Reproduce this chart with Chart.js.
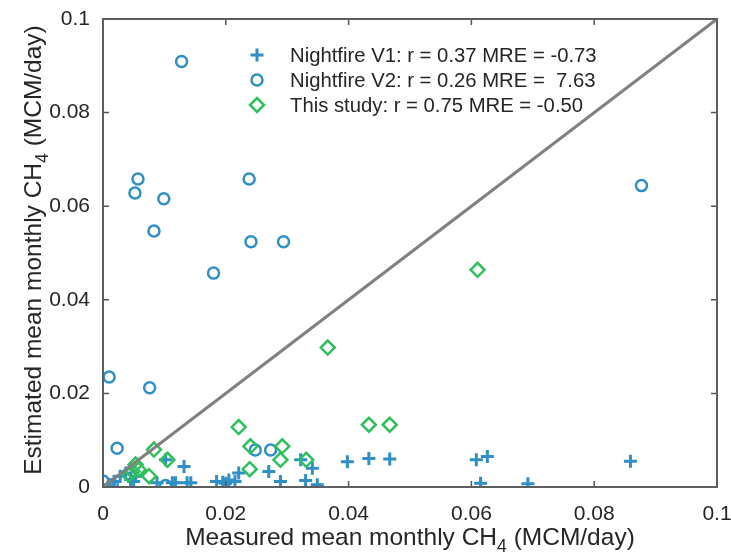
<!DOCTYPE html>
<html>
<head>
<meta charset="utf-8">
<script src="https://cdn.jsdelivr.net/npm/chart.js@4.4.1/dist/chart.umd.min.js"></script>
<style>
  body { margin: 0; background: #ffffff; }
  #box { width: 731px; height: 560px; }
</style>
</head>
<body>
<div id="box"><canvas id="grafico" width="731" height="560"></canvas></div>
<script>
// --- dati (MCM/day) ---
const nightfireV1 = [
    [0.0010, 0.0005], [0.0018, 0.0012], [0.0028, 0.0023], [0.0037, 0.0030], [0.0045, 0.0016],
    [0.0053, 0.0023], [0.0050, 0.0012], [0.0088, 0.0009], [0.0102, 0.0058], [0.0113, 0.0009],
    [0.0118, 0.0009], [0.0132, 0.0044], [0.0137, 0.0009], [0.0143, 0.0009], [0.0185, 0.0012],
    [0.0195, 0.0010], [0.0200, 0.0008], [0.0205, 0.0015], [0.0215, 0.0012], [0.0221, 0.0030],
    [0.0270, 0.0033], [0.0289, 0.0012], [0.0322, 0.0058], [0.0341, 0.0040], [0.0330, 0.0014],
    [0.0349, 0.0005], [0.0398, 0.0054], [0.0433, 0.0061], [0.0467, 0.0060], [0.0608, 0.0058],
    [0.0626, 0.0065], [0.0615, 0.0008], [0.0692, 0.0007], [0.0859, 0.0055]
];
const nightfireV2 = [
    [0.0128, 0.0909], [0.0057, 0.0658], [0.0052, 0.0628], [0.0099, 0.0616], [0.0083, 0.0547],
    [0.0238, 0.0658], [0.0241, 0.0524], [0.0294, 0.0524], [0.0180, 0.0457], [0.0010, 0.0235],
    [0.0076, 0.0212], [0.0877, 0.0644], [0.0023, 0.0083], [0.0000, 0.0013], [0.0015, 0.0005],
    [0.0102, 0.0003], [0.0248, 0.0079], [0.0273, 0.0079]
];
const questoStudio = [
    [0.0042, 0.0026], [0.0048, 0.0033], [0.0053, 0.0048], [0.0058, 0.0037], [0.0075, 0.0023],
    [0.0083, 0.0080], [0.0105, 0.0058], [0.0221, 0.0128], [0.0240, 0.0087], [0.0239, 0.0038],
    [0.0292, 0.0087], [0.0289, 0.0058], [0.0331, 0.0058], [0.0366, 0.0298], [0.0433, 0.0133],
    [0.0467, 0.0133], [0.0610, 0.0464]
];
const lineaUnoAUno = [[0, 0], [0.1, 0.1]];

const etichetteSerie = [
    'Nightfire V1: r = 0.37 MRE = -0.73',
    'Nightfire V2: r = 0.26 MRE =  7.63',
    'This study: r = 0.75 MRE = -0.50'
];
const valoriTick = [0, 0.02, 0.04, 0.06, 0.08, 0.1];
const etichetteTick = ['0', '0.02', '0.04', '0.06', '0.08', '0.1'];
const titoloX = ['Measured mean monthly CH', '4', ' (MCM/day)'];
const titoloY = ['Estimated mean monthly CH', '4', ' (MCM/day)'];

const BLU = '#2f8fc6';
const VERDE = '#2fbf5c';
const GRIGIO = '#808080';
const TESTO = '#262626';
const FONT = '"Liberation Sans", Arial, sans-serif';

function punti(arr) {
    return arr.map(p => ({ x: p[0], y: p[1] }));
}

// Disegna il testo con pedice (CH4)
function testoConPedice(ctx, parti, size) {
    ctx.font = size + 'px ' + FONT;
    const w0 = ctx.measureText(parti[0]).width;
    ctx.font = (size * 0.72) + 'px ' + FONT;
    const w1 = ctx.measureText(parti[1]).width;
    ctx.font = size + 'px ' + FONT;
    const w2 = ctx.measureText(parti[2]).width;
    let x = -(w0 + w1 + w2) / 2;
    ctx.textAlign = 'left';
    ctx.textBaseline = 'middle';
    ctx.fillText(parti[0], x, 0);
    ctx.font = (size * 0.72) + 'px ' + FONT;
    ctx.fillText(parti[1], x + w0, size * 0.38);
    ctx.font = size + 'px ' + FONT;
    ctx.fillText(parti[2], x + w0 + w1, 0);
}

//---[ PLUGIN: cornice, tick interni, titoli, legenda ]---
const pluginCornice = {
    id: 'cornice',
    afterDraw(chart) {
        const ctx = chart.ctx;
        const a = chart.chartArea;
        const sx = chart.scales.x;
        const sy = chart.scales.y;
        ctx.save();

        // tick interni
        ctx.strokeStyle = '#555555';
        ctx.lineWidth = 1.5;
        valoriTick.forEach(v => {
            const px = sx.getPixelForValue(v);
            const py = sy.getPixelForValue(v);
            ctx.beginPath();
            ctx.moveTo(px, a.bottom); ctx.lineTo(px, a.bottom - 6);
            ctx.moveTo(px, a.top); ctx.lineTo(px, a.top + 6);
            ctx.moveTo(a.left, py); ctx.lineTo(a.left + 6, py);
            ctx.moveTo(a.right, py); ctx.lineTo(a.right - 6, py);
            ctx.stroke();
        });

        // cornice
        ctx.strokeStyle = '#5e5e5e';
        ctx.lineWidth = 2;
        ctx.strokeRect(a.left, a.top, a.right - a.left, a.bottom - a.top);

        // titoli assi
        ctx.fillStyle = TESTO;
        ctx.save();
        ctx.translate((a.left + a.right) / 2, 538);
        testoConPedice(ctx, titoloX, 24.5);
        ctx.restore();
        ctx.save();
        ctx.translate(34, 250);
        ctx.rotate(-Math.PI / 2);
        testoConPedice(ctx, titoloY, 24.5);
        ctx.restore();

        // legenda
        const serie = chart.data.datasets.filter(d => d.inLegenda);
        serie.forEach((d, i) => {
            const y = 55 + i * 25;
            ctx.strokeStyle = d.borderColor;
            ctx.fillStyle = 'rgba(0,0,0,0)';
            ctx.lineWidth = d.borderWidth;
            Chart.helpers.drawPoint(ctx, {
                pointStyle: d.pointStyle,
                radius: d.pointRadius,
                borderWidth: d.borderWidth,
                rotation: 0
            }, 257, y);
            ctx.fillStyle = TESTO;
            ctx.font = '20.3px ' + FONT;
            ctx.textAlign = 'left';
            ctx.textBaseline = 'middle';
            ctx.fillText(d.label, 290, y + 1);
        });
        ctx.restore();
    }
};

const opzioniAsse = {
    type: 'linear',
    min: 0,
    max: 0.1,
    grid: { display: false },
    border: { display: false },
    afterBuildTicks: s => { s.ticks = valoriTick.map(v => ({ value: v })); },
    ticks: {
        color: TESTO,
        font: { family: FONT, size: 21 },
        maxRotation: 0,
        callback: (v) => etichetteTick[valoriTick.indexOf(v)]
    }
};

const ctx = document.getElementById('grafico').getContext('2d');
new Chart(ctx, {
    type: 'scatter',
    data: {
        datasets: [
            {
                type: 'line',
                data: punti(lineaUnoAUno),
                borderColor: GRIGIO,
                borderWidth: 3,
                pointRadius: 0,
                fill: false,
                order: 0
            },
            {
                label: etichetteSerie[0],
                inLegenda: true,
                data: punti(nightfireV1),
                pointStyle: 'cross',
                pointRadius: 6.5,
                borderWidth: 3,
                borderColor: BLU,
                backgroundColor: 'rgba(0,0,0,0)',
                order: 3
            },
            {
                label: etichetteSerie[1],
                inLegenda: true,
                data: punti(nightfireV2),
                pointStyle: 'circle',
                pointRadius: 5.5,
                borderWidth: 2.5,
                borderColor: BLU,
                backgroundColor: 'rgba(0,0,0,0)',
                order: 2
            },
            {
                label: etichetteSerie[2],
                inLegenda: true,
                data: punti(questoStudio),
                pointStyle: 'rectRot',
                pointRadius: 7,
                borderWidth: 2.5,
                borderColor: VERDE,
                backgroundColor: 'rgba(0,0,0,0)',
                order: 1
            }
        ]
    },
    options: {
        responsive: false,
        animation: false,
        layout: { padding: { left: 0, right: 14, top: 19, bottom: 0 } },
        plugins: {
            legend: { display: false },
            tooltip: { enabled: false }
        },
        scales: {
            x: Object.assign({}, opzioniAsse, {
                position: 'bottom',
                afterFit: s => { s.height = 73; s.paddingLeft = 0; s.paddingRight = 0; },
                ticks: Object.assign({}, opzioniAsse.ticks, { padding: 7 })
            }),
            y: Object.assign({}, opzioniAsse, {
                position: 'left',
                afterFit: s => { s.width = 103; s.paddingTop = 0; s.paddingBottom = 0; },
                ticks: Object.assign({}, opzioniAsse.ticks, { padding: 5 })
            })
        }
    },
    plugins: [pluginCornice]
});
</script>
</body>
</html>
